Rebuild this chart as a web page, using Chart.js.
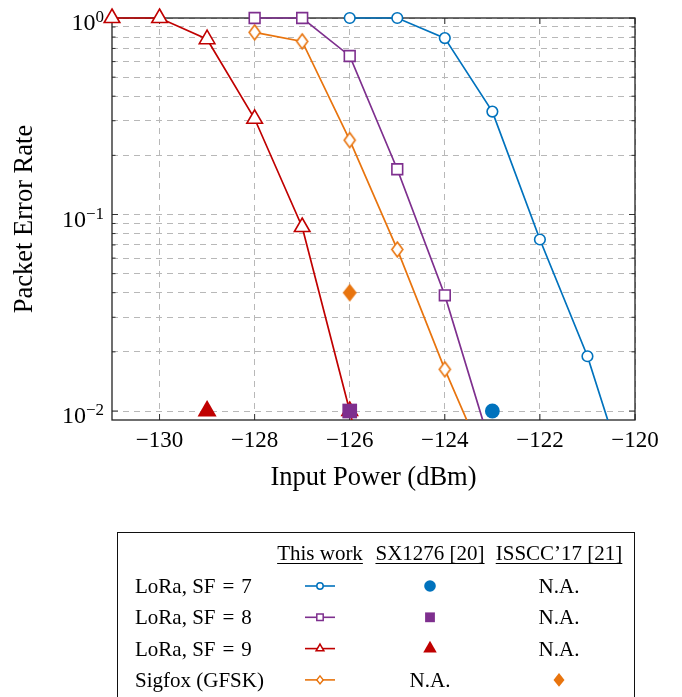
<!DOCTYPE html>
<html lang="en">
<head>
<meta charset="UTF-8">
<title>Packet Error Rate</title>
<style>
  body { margin: 0; background: #fff; }
  #wrap { width: 682px; height: 697px; position: relative; }
</style>
</head>
<body>
<div id="wrap"><canvas id="perChart"></canvas></div>
<script src="https://cdn.jsdelivr.net/npm/chart.js@4.4.1/dist/chart.umd.min.js"></script>
<script>
// input power (dBm) vs packet error rate
const powerSF7 = [-126, -125, -124, -123, -122, -121, -120];
const perSF7 = [1, 1, 0.79, 0.334, 0.0746, 0.019, 0.0033];
const powerSF8 = [-128, -127, -126, -125, -124, -123];
const perSF8 = [1, 1, 0.641, 0.17, 0.0388, 0.0062];
const powerSF9 = [-131, -130, -129, -128, -127, -126, -125];
const perSF9 = [1, 1, 0.78, 0.307, 0.0864, 0.01, 0.001];
const powerGFSK = [-128, -127, -126, -125, -124, -123];
const perGFSK = [0.845, 0.76, 0.239, 0.0664, 0.0163, 0.0045];

// single reference points: SX1276 [20] and ISSCC'17 [21]
const sx1276Power = [-123, -126, -129];
const sx1276Per = [0.01, 0.01, 0.01];
const isscc17Power = [-126];
const isscc17Per = [0.04];

const xTicks = [-130, -128, -126, -124, -122, -120];
const xTickLabels = ['\u2212130', '\u2212128', '\u2212126', '\u2212124', '\u2212122', '\u2212120'];
const yTickValues = [1, 0.1, 0.01];
const yTickExps = ['0', '\u22121', '\u22122'];
const yGridValues = [0.01, 0.02, 0.03, 0.04, 0.05, 0.06, 0.07, 0.08, 0.09,
                     0.1, 0.2, 0.3, 0.4, 0.5, 0.6, 0.7, 0.8, 0.9, 1];

const legendRows = ['LoRa, SF\u2004=\u20047', 'LoRa, SF\u2004=\u20048', 'LoRa, SF\u2004=\u20049', 'Sigfox (GFSK)'];
const legendHeads = ['This work', 'SX1276 [20]', 'ISSCC\u201917 [21]'];

const BLUE = '#0072BD', PURPLE = '#7E2F8E', RED = '#C00000', ORANGE = '#E8740E';
const serif = '"Liberation Serif", "Times New Roman", serif';

function pts(xs, ys) { return xs.map((x, i) => ({ x: x, y: ys[i] })); }

function diamondImage(w, h, color, filled, lw) {
  const c = document.createElement('canvas');
  c.width = Math.ceil(w + lw * 2 + 2);
  c.height = Math.ceil(h + lw * 2 + 2);
  const g = c.getContext('2d');
  const cx = c.width / 2, cy = c.height / 2;
  g.beginPath();
  g.moveTo(cx, cy - h / 2); g.lineTo(cx + w / 2, cy);
  g.lineTo(cx, cy + h / 2); g.lineTo(cx - w / 2, cy);
  g.closePath();
  g.fillStyle = filled ? color : '#fff';
  g.fill();
  if (!filled) { g.lineWidth = lw; g.strokeStyle = color; g.stroke(); }
  return c;
}

const openDiamond = diamondImage(11, 15, ORANGE, false, 1.6);
const fullDiamond = diamondImage(14, 18, ORANGE, true, 0);

function lineSet(xs, ys, color, style, r) {
  return {
    type: 'line', data: pts(xs, ys), borderColor: color, borderWidth: 1.7,
    pointStyle: style, pointRadius: r, pointBorderWidth: 1.6,
    pointBorderColor: color, pointBackgroundColor: '#fff',
    tension: 0, fill: false,
    clip: { left: false, top: false, right: false, bottom: 0 }
  };
}

function markSet(xs, ys, colors, styles, radii) {
  return {
    type: 'scatter', data: pts(xs, ys), showLine: false,
    pointStyle: styles, pointRadius: radii, pointBorderWidth: 0,
    pointBackgroundColor: colors, pointBorderColor: colors,
    clip: false
  };
}

// draws a small marker for the legend table
function mark(ctx, shape, x, y, s, color, filled) {
  ctx.save();
  ctx.beginPath();
  if (shape === 'circle') ctx.arc(x, y, s, 0, Math.PI * 2);
  else if (shape === 'rect') ctx.rect(x - s, y - s, 2 * s, 2 * s);
  else if (shape === 'triangle') {
    ctx.moveTo(x, y - s); ctx.lineTo(x + s * 0.866, y + s / 2); ctx.lineTo(x - s * 0.866, y + s / 2);
    ctx.closePath();
  } else {
    ctx.moveTo(x, y - s * 1.25); ctx.lineTo(x + s, y); ctx.lineTo(x, y + s * 1.25); ctx.lineTo(x - s, y);
    ctx.closePath();
  }
  if (filled) { ctx.fillStyle = color; ctx.fill(); }
  else { ctx.fillStyle = '#fff'; ctx.fill(); ctx.lineWidth = 1.5; ctx.strokeStyle = color; ctx.stroke(); }
  ctx.restore();
}

const framePlugin = {
  id: 'frame',
  beforeDatasetsDraw(chart) {
    const { ctx, chartArea: a, scales: { x, y } } = chart;
    ctx.save();
    ctx.strokeStyle = '#333';
    ctx.lineWidth = 1;
    ctx.beginPath();
    xTicks.forEach(v => {
      const px = x.getPixelForValue(v);
      ctx.moveTo(px, a.bottom); ctx.lineTo(px, a.bottom - 6);
      ctx.moveTo(px, a.top); ctx.lineTo(px, a.top + 6);
    });
    yGridValues.forEach(v => {
      const py = y.getPixelForValue(v);
      const len = yTickValues.includes(v) ? 6 : 3.5;
      ctx.moveTo(a.left, py); ctx.lineTo(a.left + len, py);
      ctx.moveTo(a.right, py); ctx.lineTo(a.right - len, py);
    });
    ctx.stroke();
    ctx.lineWidth = 1.3;
    ctx.strokeStyle = '#222';
    ctx.strokeRect(a.left, a.top, a.width, a.height);
    ctx.restore();
  },
  afterDraw(chart) {
    const { ctx, scales: { y } } = chart;
    ctx.save();
    ctx.fillStyle = '#000';
    ctx.textBaseline = 'alphabetic';
    ctx.textAlign = 'right';
    yTickValues.forEach((v, i) => {
      const py = y.getPixelForValue(v);
      ctx.font = '17px ' + serif;
      const ew = ctx.measureText(yTickExps[i]).width;
      ctx.fillText(yTickExps[i], 104, py + 4);
      ctx.font = '24px ' + serif;
      ctx.fillText('10', 104 - ew, py + 12);
    });

    // legend table
    ctx.lineWidth = 1;
    ctx.strokeStyle = '#111';
    ctx.strokeRect(117.5, 532.5, 517, 200);
    const cols = [320, 430, 559];
    ctx.font = '21px ' + serif;
    ctx.textAlign = 'center';
    legendHeads.forEach((h, i) => {
      ctx.fillText(h, cols[i], 560);
      const w = ctx.measureText(h).width;
      ctx.fillRect(cols[i] - w / 2, 563, w, 1);
    });
    const colors = [BLUE, PURPLE, RED, ORANGE];
    const shapes = ['circle', 'rect', 'triangle', 'diamond'];
    const big = [5.8, 4.9, 7.8, 5.5];
    legendRows.forEach((label, i) => {
      const base = 593 + i * 31.3;
      const my = base - 7;
      ctx.textAlign = 'left';
      ctx.fillText(label, 135, base);
      ctx.textAlign = 'center';
      ctx.strokeStyle = colors[i];
      ctx.lineWidth = 1.6;
      ctx.beginPath(); ctx.moveTo(305, my); ctx.lineTo(335, my); ctx.stroke();
      mark(ctx, shapes[i], 320, my, i === 2 ? 4.5 : 3.2, colors[i], false);
      if (i < 3) {
        mark(ctx, shapes[i], cols[1], my, big[i], colors[i], true);
        ctx.fillText('N.A.', cols[2], base);
      } else {
        ctx.fillText('N.A.', cols[1], base);
        mark(ctx, shapes[i], cols[2], my, big[i], colors[i], true);
      }
    });
    ctx.restore();
  }
};

const gridColor = '#b8b8b8';

new Chart(document.getElementById('perChart'), {
  data: {
    datasets: [
      markSet(sx1276Power, sx1276Per, [BLUE, PURPLE, RED], ['circle', 'rect', 'triangle'], [7.4, 10.4, 11]),
      markSet(isscc17Power, isscc17Per, [ORANGE], [fullDiamond], [8]),
      lineSet(powerSF7, perSF7, BLUE, 'circle', 5.3),
      lineSet(powerSF8, perSF8, PURPLE, 'rect', 7.6),
      lineSet(powerSF9, perSF9, RED, 'triangle', 9),
      lineSet(powerGFSK, perGFSK, ORANGE, openDiamond, 7)
    ]
  },
  options: {
    responsive: true,
    maintainAspectRatio: false,
    animation: false,
    layout: { padding: { left: 0, top: 18, right: 47, bottom: 197 } },
    plugins: { legend: { display: false }, tooltip: { enabled: false } },
    scales: {
      x: {
        type: 'linear', min: -131, max: -120,
        afterBuildTicks: s => { s.ticks = xTicks.map(v => ({ value: v })); },
        afterFit: s => { s.height = 80; },
        ticks: {
          callback: (v, i) => xTickLabels[i],
          font: { family: serif, size: 23 }, color: '#000',
          padding: 7, maxRotation: 0, autoSkip: false
        },
        grid: { color: gridColor, lineWidth: 1, drawTicks: false },
        border: { display: false, dash: [6, 5] },
        title: {
          display: true, text: 'Input Power (dBm)', color: '#000',
          font: { family: serif, size: 26.5 }, padding: { top: 0, bottom: 6 }
        }
      },
      y: {
        type: 'logarithmic', min: 0.009, max: 1,
        afterBuildTicks: s => { s.ticks = yGridValues.map(v => ({ value: v })); },
        afterFit: s => { s.width = 112; },
        ticks: { display: false },
        grid: { color: gridColor, lineWidth: 1, drawTicks: false },
        border: { display: false, dash: [6, 5] },
        title: {
          display: true, text: 'Packet Error Rate', color: '#000',
          font: { family: serif, size: 26.5 }, padding: { top: 9, bottom: 0 }
        }
      }
    }
  },
  plugins: [framePlugin]
});
</script>
</body>
</html>
